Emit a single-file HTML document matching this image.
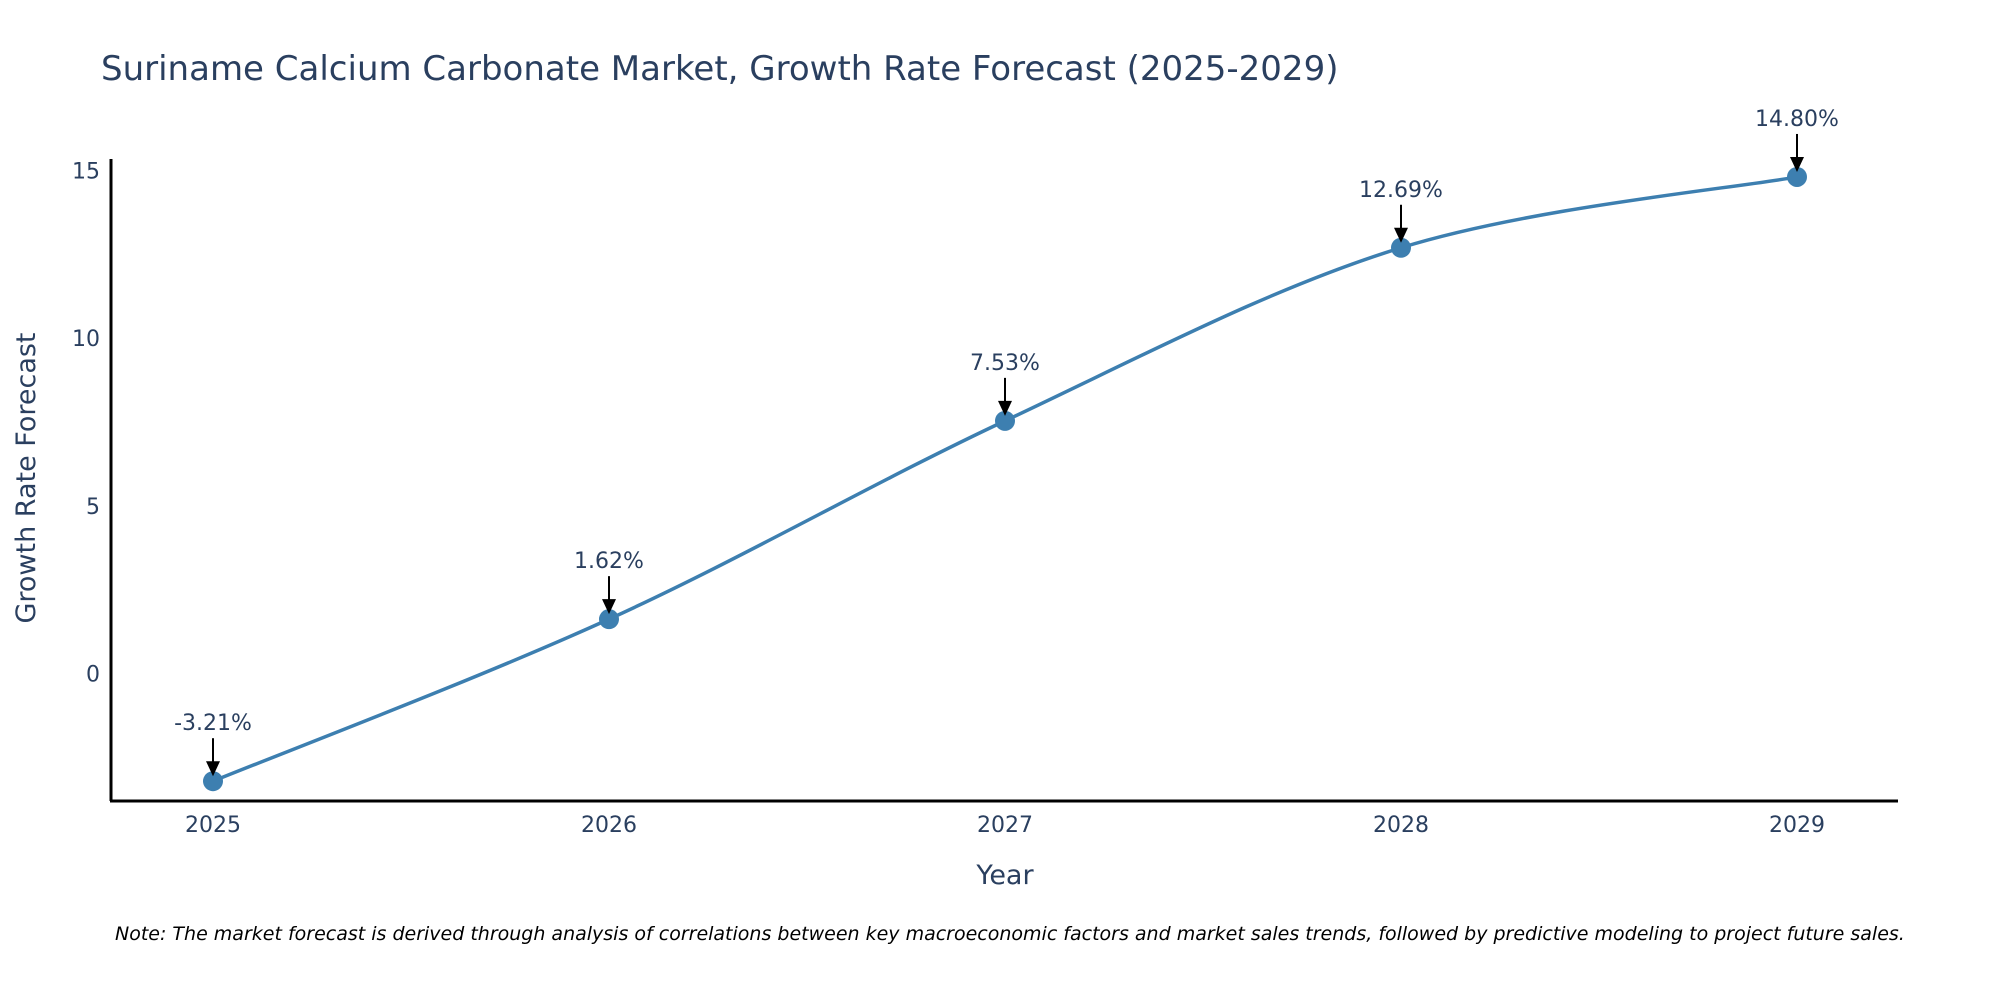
<!DOCTYPE html>
<html><head><meta charset="utf-8"><style>
body{margin:0;background:#fff;}
svg{display:block;font-family:"DejaVu Sans","Liberation Sans",sans-serif;}
</style></head><body>
<svg id="chart" width="2000" height="1000">
<text x="101" y="80" font-size="34" fill="#2a3f5f">Suriname Calcium Carbonate Market, Growth Rate Forecast (2025-2029)</text>
<g id="yticks"></g><g id="xticks"></g>
<line x1="111" y1="159" x2="111" y2="801" stroke="#000" stroke-width="3"/>
<line x1="110" y1="801" x2="1898" y2="801" stroke="#000" stroke-width="3"/>
<path id="line" fill="none" stroke="#3d7fb0" stroke-width="3.5"/>
<g id="pts"></g>
<text x="1005" y="884" font-size="27" fill="#2a3f5f" text-anchor="middle">Year</text>
<text transform="translate(35,478) rotate(-90)" font-size="27" fill="#2a3f5f" text-anchor="middle">Growth Rate Forecast</text>
<text x="115" y="940" font-size="19" font-style="italic" fill="#000">Note: The market forecast is derived through analysis of correlations between key macroeconomic factors and market sales trends, followed by predictive modeling to project future sales.</text>
</svg>
<script>
const years=[2025,2026,2027,2028,2029];
const values=[-3.21,1.62,7.53,12.69,14.80];
const labels=["-3.21%","1.62%","7.53%","12.69%","14.80%"];
const yTicks=[0,5,10,15];
const ns="http://www.w3.org/2000/svg";
const X=y=>213+(y-2025)*396;
const Y=v=>673.5-v*33.55;
function mk(t,a,p){const e=document.createElementNS(ns,t);for(const k in a)e.setAttribute(k,a[k]);p.appendChild(e);return e;}
const yt=document.getElementById('yticks');
yTicks.forEach(v=>{const t=mk('text',{x:100,y:Y(v)+8,'font-size':22,fill:'#2a3f5f','text-anchor':'end'},yt);t.textContent=v;

});
const xt=document.getElementById('xticks');
years.forEach(v=>{const t=mk('text',{x:X(v),y:832,'font-size':22,fill:'#2a3f5f','text-anchor':'middle'},xt);t.textContent=v;

});
const P=years.map((y,i)=>[X(y),Y(values[i])]);
let d=`M${P[0][0]},${P[0][1]}`;
for(let i=0;i<P.length-1;i++){const p0=P[Math.max(i-1,0)],p1=P[i],p2=P[i+1],p3=P[Math.min(i+2,P.length-1)];const s=6;
d+=` C${p1[0]+(p2[0]-p0[0])/s},${p1[1]+(p2[1]-p0[1])/s} ${p2[0]-(p3[0]-p1[0])/s},${p2[1]-(p3[1]-p1[1])/s} ${p2[0]},${p2[1]}`;}
document.getElementById('line').setAttribute('d',d);
const g=document.getElementById('pts');
P.forEach((p,i)=>{const c=mk('circle',{cx:p[0],cy:p[1],r:10,fill:'#3d7fb0'},g);


const a=mk('line',{x1:p[0],y1:p[1]-43,x2:p[0],y2:p[1]-18,stroke:'#000','stroke-width':2},g);


const h=mk('path',{d:`M${p[0]-7},${p[1]-20} L${p[0]+7},${p[1]-20} L${p[0]},${p[1]-5} Z`,fill:'#000'},g);


const t=mk('text',{x:p[0],y:p[1]-51,'font-size':22,fill:'#2a3f5f','text-anchor':'middle'},g);t.textContent=labels[i];

});
</script>
</body></html>
